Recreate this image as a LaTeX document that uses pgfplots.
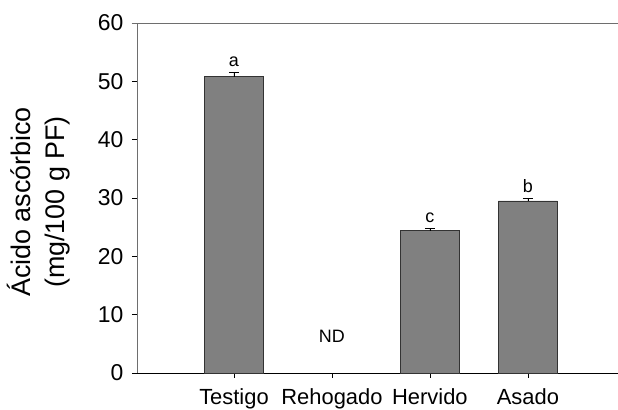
\documentclass[border=0pt]{standalone}
\usepackage{pgfplots}
\pgfplotsset{compat=1.18}
\usepackage{fontspec}
\setmainfont{Liberation Sans}
\begin{document}
\begin{tikzpicture}
\definecolor{barfill}{RGB}{128,128,128}
\definecolor{axgray}{RGB}{110,110,110}
\begin{axis}[
  scale only axis,
  width=481bp, height=350bp,
  xmin=-0.99, xmax=3.92,
  ymin=0, ymax=60,
  ytick={0,10,...,60},
  xtick={0,1,2,3},
  xticklabels={Testigo,Rehogado,Hervido,Asado},
  axis x line*=bottom,
  axis y line*=left,
  x axis line style={black, line width=0.8pt, -},
  y axis line style={axgray, line width=0.8pt, -},
  tick align=outside,
  major tick length=5bp,
  xtick style={black, line width=0.6pt},
  ytick style={black, line width=0.6pt},
  /pgf/number format/assume math mode=true,
  yticklabel style={font=\fontsize{23}{27}\selectfont, xshift=-5bp},
  xticklabel style={font=\fontsize{22}{26}\selectfont, yshift=-7bp},
  ybar, bar width=59bp,
  clip=false,
]
\addplot[fill=barfill, draw=black!80, line width=0.8pt,
  error bars/.cd, y dir=plus, y explicit,
  error bar style={black, line width=0.7pt},
  error mark options={black, line width=0.7pt, rotate=90, mark size=5bp}]
  coordinates {(0,50.8) +- (0,0.75) (2,24.4) +- (0,0.4) (3,29.5) +- (0,0.45)};
\draw[axgray, line width=0.8pt] ([xshift=-5bp]rel axis cs:0,1) -- (rel axis cs:1,1);
\node[anchor=south, font=\fontsize{18}{21}\selectfont, inner sep=0pt] at ([yshift=5bp]axis cs:0,51.55) {a};
\node[anchor=south, font=\fontsize{18}{21}\selectfont, inner sep=0pt] at ([yshift=5bp]axis cs:2,24.8) {c};
\node[anchor=south, font=\fontsize{18}{21}\selectfont, inner sep=0pt] at ([yshift=5bp]axis cs:3,29.95) {b};
\node[anchor=center, font=\fontsize{18}{21}\selectfont, inner sep=0pt] at (axis cs:1,6.2) {ND};
\node[rotate=90, align=center, anchor=center, font=\fontsize{27}{34}\selectfont, inner sep=0pt] at ([xshift=-98bp, yshift=-4bp]rel axis cs:0,0.5) {Ácido ascórbico\\(mg/100 g PF)};
\coordinate (bbsw) at ([xshift=-137bp, yshift=-37bp]rel axis cs:0,0);
\coordinate (bbne) at ([yshift=23bp]rel axis cs:1,1);
\end{axis}
\pgfresetboundingbox
\path[use as bounding box] (bbsw) rectangle (bbne);
\end{tikzpicture}
\end{document}
